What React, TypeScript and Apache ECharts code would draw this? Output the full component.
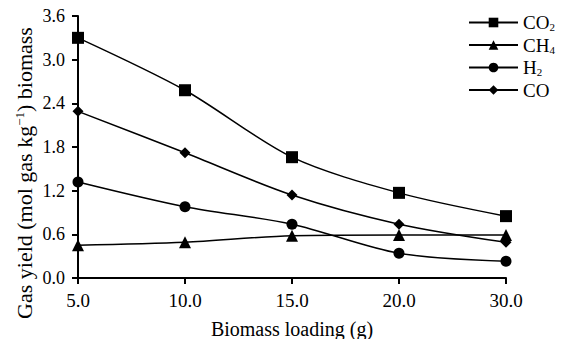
import React, { useEffect, useRef } from "react";
import * as echarts from "echarts";

const categories = ["5.0", "10.0", "15.0", "20.0", "30.0"];
const co2 = [3.3, 2.58, 1.66, 1.17, 0.85];
const ch4 = [0.45, 0.49, 0.58, 0.59, 0.59];
const h2 = [1.32, 0.98, 0.74, 0.34, 0.23];
const co = [2.29, 1.72, 1.14, 0.74, 0.49];
const yTicks = { min: 0, max: 3.6, interval: 0.6 };
const yTitle = "Gas yield (mol gas kg{sup|−1}) biomass";
const xTitle = "Biomass loading (g)";

const FONT = "Liberation Serif";

export default function App() {
  const ref = useRef<HTMLDivElement>(null);
  useEffect(() => {
    const chart = echarts.init(ref.current!, null, { renderer: "svg" });
    const mk = (name: string, data: number[], symbol: string, size: number) => ({
      name,
      type: "line",
      data,
      symbol,
      symbolSize: size,
      smooth: 0.3,
      itemStyle: { color: "#000" },
      lineStyle: { color: "#000", width: 1.5 },
    });
    chart.setOption({
      animation: false,
      backgroundColor: "#fff",
      textStyle: { fontFamily: FONT, color: "#000" },
      grid: { left: 78, right: 67, top: 16, bottom: 61, containLabel: false, outerBoundsMode: "none" },
      legend: {
        orient: "vertical",
        left: 463,
        top: 8,
        itemWidth: 49,
        itemHeight: 12,
        itemGap: 3,
        textStyle: {
          fontFamily: FONT,
          fontSize: 19,
          color: "#000",
          rich: {
            sub: { fontFamily: FONT, fontSize: 11, color: "#000", verticalAlign: "bottom", padding: [9, 0, 0, 0] },
          },
        },
        formatter: (n: string) => {
          if (n === "CO2") return "CO{sub|2}";
          if (n === "CH4") return "CH{sub|4}";
          if (n === "H2") return "H{sub|2}";
          return n;
        },
        data: ["CO2", "CH4", "H2", "CO"],
      },
      graphic: [
        {
          type: "text",
          x: 24,
          y: 173,
          rotation: Math.PI / 2,
          style: {
            text: yTitle,
            fontFamily: FONT,
            fontSize: 22,
            fill: "#000",
            align: "center",
            verticalAlign: "middle",
            rich: {
              sup: { fontFamily: FONT, fontSize: 13, fill: "#000", verticalAlign: "top", padding: [0, 0, 10, 0] },
            },
          },
        },
      ],
      xAxis: {
        type: "category",
        data: categories,
        boundaryGap: false,
        name: xTitle,
        nameLocation: "middle",
        nameGap: 41,
        nameTextStyle: { fontFamily: FONT, fontSize: 20, color: "#000" },
        axisLine: { lineStyle: { color: "#000", width: 2 } },
        axisTick: { show: true, length: 6, lineStyle: { color: "#000", width: 2 } },
        axisLabel: { fontFamily: FONT, fontSize: 19, color: "#000", margin: 13 },
        splitLine: { show: false },
      },
      yAxis: {
        type: "value",
        min: yTicks.min,
        max: yTicks.max,
        interval: yTicks.interval,
        axisLine: { show: true, lineStyle: { color: "#000", width: 2 } },
        axisTick: { show: true, length: 6, lineStyle: { color: "#000", width: 2 } },
        axisLabel: {
          fontFamily: FONT,
          fontSize: 18,
          color: "#000",
          margin: 13,
          formatter: (v: number) => v.toFixed(1),
        },
        splitLine: { show: false },
      },
      series: [
        mk("CO2", co2, "rect", 12),
        mk("CH4", ch4, "triangle", 12),
        mk("H2", h2, "circle", 11),
        mk("CO", co, "diamond", 11),
      ],
    });
    return () => chart.dispose();
  }, []);
  return <div ref={ref} style={{ width: 573, height: 339, position: "absolute", left: 0, top: 0 }} />;
}
